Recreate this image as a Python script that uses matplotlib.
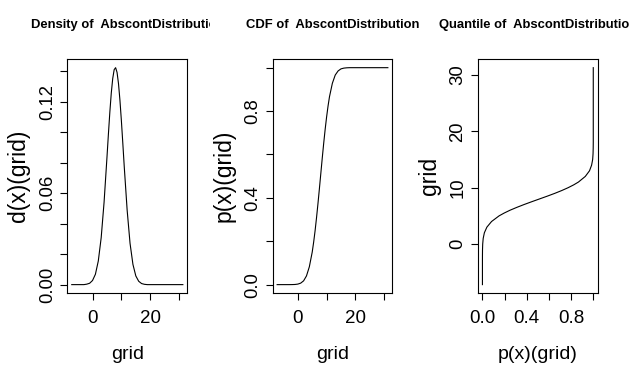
import matplotlib
matplotlib.use("Agg")
import matplotlib.pyplot as plt
from matplotlib.transforms import Bbox, TransformedBbox

# values
grid = [-7.2, -6, -5, -4, -3, -2, -1, 0, 1, 2, 3, 4, 5, 5.5, 6, 6.5, 7, 7.5,
        8, 8.5, 9, 9.5, 10, 10.5, 11, 12, 13, 14, 15, 16, 17, 18, 19, 20,
        22, 24, 26, 28, 30, 31.3]
dens = [0, 0, 0, 0, 0, 0.0003, 0.0009, 0.0027, 0.0068, 0.0155, 0.0308,
        0.054, 0.0834, 0.0987, 0.1132, 0.1258, 0.1353, 0.1411, 0.1424,
        0.1393, 0.1319, 0.1210, 0.1076, 0.0926, 0.0772, 0.0488, 0.0271,
        0.0133, 0.0057, 0.0022, 0.0007, 0.0002, 0, 0, 0, 0, 0, 0, 0, 0]
cdf = [0, 0, 0, 0, 0, 0.0002, 0.0007, 0.0024, 0.0069, 0.0174, 0.0401,
       0.0823, 0.150, 0.196, 0.2486, 0.309, 0.374, 0.443, 0.514, 0.585,
       0.653, 0.716, 0.773, 0.823, 0.866, 0.928, 0.966, 0.985, 0.9945,
       0.998, 0.9994, 1.0, 1.0, 1.0, 1.0, 1.0, 1.0, 1.0, 1.0, 1.0]

titles = ["Density of  AbscontDistribution", "CDF of  AbscontDistribution",
          "Quantile of  AbscontDistribution"]

dens_yticks = [0, 0.02, 0.04, 0.06, 0.08, 0.10, 0.12, 0.14]
dens_ylabels = ["0.00", "", "", "0.06", "", "", "0.12", ""]
grid_ticks = [0, 10, 20, 30]
grid_labels = ["0", "", "20", ""]
p_ticks = [0, 0.2, 0.4, 0.6, 0.8, 1.0]
p_labels = ["0.0", "", "0.4", "", "0.8", ""]
q_labels = ["0", "10", "20", "30"]

W, H = 629, 367
plt.rcParams["font.family"] = ["Liberation Sans", "DejaVu Sans"]
plt.rcParams["axes.linewidth"] = 0.8

fig = plt.figure(figsize=(W / 100, H / 100), dpi=100)

# axes boxes in pixels: left, right, top, bottom
boxes = [(67.3, 187.3, 59, 293.3), (272.7, 392.3, 59, 293.3), (478, 597.7, 59, 293.3)]
axes = []
for l, r, t, b in boxes:
    ax = fig.add_axes([l / W, 1 - b / H, (r - l) / W, (b - t) / H])
    axes.append(ax)

ax1, ax2, ax3 = axes
ax1.plot(grid, dens, color="black", lw=0.8)
ax2.plot(grid, cdf, color="black", lw=0.8)
ax3.plot(cdf, grid, color="black", lw=0.8)

ax1.set_xticks(grid_ticks, grid_labels)
ax1.set_yticks(dens_yticks, dens_ylabels)
ax2.set_xticks(grid_ticks, grid_labels)
ax2.set_yticks(p_ticks, p_labels)
ax3.set_xticks(p_ticks, p_labels)
ax3.set_yticks(grid_ticks, q_labels)

xlabs = ["grid", "grid", "p(x)(grid)"]
ylabs = ["d(x)(grid)", "p(x)(grid)", "grid"]
for i, ax in enumerate(axes):
    ax.margins(0.04)
    ax.tick_params(length=4.8, width=0.8, color="black")
    ax.tick_params(axis="y", labelrotation=90, pad=3.5, labelsize=13.3)
    ax.tick_params(axis="x", pad=7, labelsize=13.5)
    for lab in ax.get_yticklabels():
        lab.set_va("center")
    ax.set_xlabel(xlabs[i], fontsize=14, labelpad=14)
    ax.set_ylabel(ylabs[i], fontsize=16.5, labelpad=6)
    for s in ax.spines.values():
        s.set_color("black")

    l, r, t, b = boxes[i]
    txt = fig.text((l + r) / 2 / W, 1 - 27.7 / H, titles[i], ha="center",
                   va="baseline", fontsize=9.4, fontweight="bold")
    clip = Bbox([[i / 3, 0], [(i + 1) / 3, 1]])
    txt.set_clip_box(TransformedBbox(clip, fig.transFigure))
    txt.set_clip_on(True)

fig.savefig("out.png", dpi=100)
